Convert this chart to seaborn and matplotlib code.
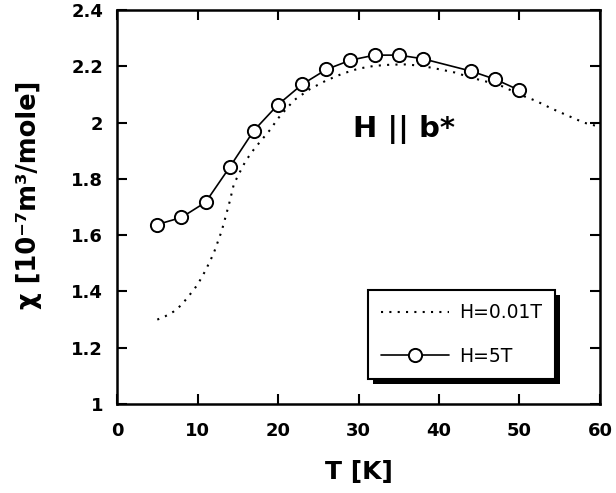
import numpy as np
import pandas as pd
import seaborn as sns
import matplotlib.pyplot as plt
from matplotlib import patheffects

# H = 0.01 T (dotted curve)
T_low = [5, 6, 7, 8, 9, 10, 11, 12, 13, 13.5, 14, 14.5, 15, 16, 17, 18, 19, 20,
         21, 22, 24, 26, 28, 30, 32, 34, 36, 38, 40, 42, 44, 46, 48, 50, 52, 54,
         56, 58, 60]
chi_low = [1.30, 1.312, 1.328, 1.352, 1.387, 1.424, 1.475, 1.535, 1.615, 1.667,
           1.72, 1.78, 1.81, 1.865, 1.905, 1.94, 1.974, 2.015, 2.048, 2.08, 2.12,
           2.15, 2.174, 2.192, 2.202, 2.206, 2.207, 2.201, 2.19, 2.178, 2.16,
           2.145, 2.128, 2.10, 2.078, 2.05, 2.025, 2.0, 1.985]

# H = 5 T (circles)
T_high = [5, 8, 11, 14, 17, 20, 23, 26, 29, 32, 35, 38, 44, 47, 50]
chi_high = [1.638, 1.663, 1.717, 1.842, 1.972, 2.064, 2.136, 2.189, 2.222,
            2.24, 2.24, 2.227, 2.183, 2.154, 2.115]

x_ticks = [0, 10, 20, 30, 40, 50, 60]
y_ticks = [1, 1.2, 1.4, 1.6, 1.8, 2, 2.2, 2.4]
y_ticklabels = ['1', '1.2', '1.4', '1.6', '1.8', '2', '2.2', '2.4']

sns.set_style('ticks')
plt.rcParams['font.family'] = ['DejaVu Sans']
for key in ['text.color', 'axes.labelcolor', 'xtick.color', 'ytick.color',
            'axes.edgecolor']:
    plt.rcParams[key] = 'black'

fig = plt.figure(figsize=(6.16, 4.93), dpi=100)
ax = fig.add_axes([0.19, 0.1805, 0.784, 0.799])

sns.lineplot(x=T_low, y=chi_low, ax=ax, color='k', linestyle=(0, (1, 3)),
             lw=1.5, label='H=0.01T')
sns.lineplot(x=T_high, y=chi_high, ax=ax, color='k', lw=1.2, marker='o',
             markersize=9.5, markerfacecolor='white', markeredgecolor='k',
             markeredgewidth=1.4, label='H=5T')

ax.set_xlim(0, 60)
ax.set_ylim(1, 2.4)
ax.set_xticks(x_ticks)
ax.set_xticklabels([str(t) for t in x_ticks])
ax.set_yticks(y_ticks)
ax.set_yticklabels(y_ticklabels)
ax.tick_params(direction='in', length=7.5, width=1.5, top=True, right=True,
               labelsize=13, colors='black')
ax.tick_params(axis='x', pad=13)
ax.tick_params(axis='y', pad=10)
for lab in ax.get_xticklabels() + ax.get_yticklabels():
    lab.set_fontweight('bold')
for s in ax.spines.values():
    s.set_linewidth(1.8)
    s.set_color('black')
    s.set_visible(True)

ax.set_xlabel('T [K]', fontsize=18, fontweight='bold', labelpad=14)
ax.set_ylabel('χ [10⁻⁷m³/mole]', fontsize=18.5, fontweight='bold')
ax.yaxis.set_label_coords(-0.155, 0.53)

ax.text(29.3, 1.949, 'H || b*', fontsize=21, fontweight='bold',
        ha='left', va='baseline')

leg = ax.legend(loc='upper left', bbox_to_anchor=(0.52, 0.289),
                borderaxespad=0, fontsize=13.5, handlelength=3.6,
                handletextpad=0.55, borderpad=0.7, labelspacing=1.3,
                fancybox=False, framealpha=1, edgecolor='k')
leg.get_frame().set_linewidth(1.5)
leg.get_frame().set_path_effects([
    patheffects.SimplePatchShadow(offset=(3.5, -3.5), shadow_rgbFace='k', alpha=1),
    patheffects.Normal()])
for t in leg.get_texts():
    t.set_color('black')

fig.savefig('out.png', dpi=100)
